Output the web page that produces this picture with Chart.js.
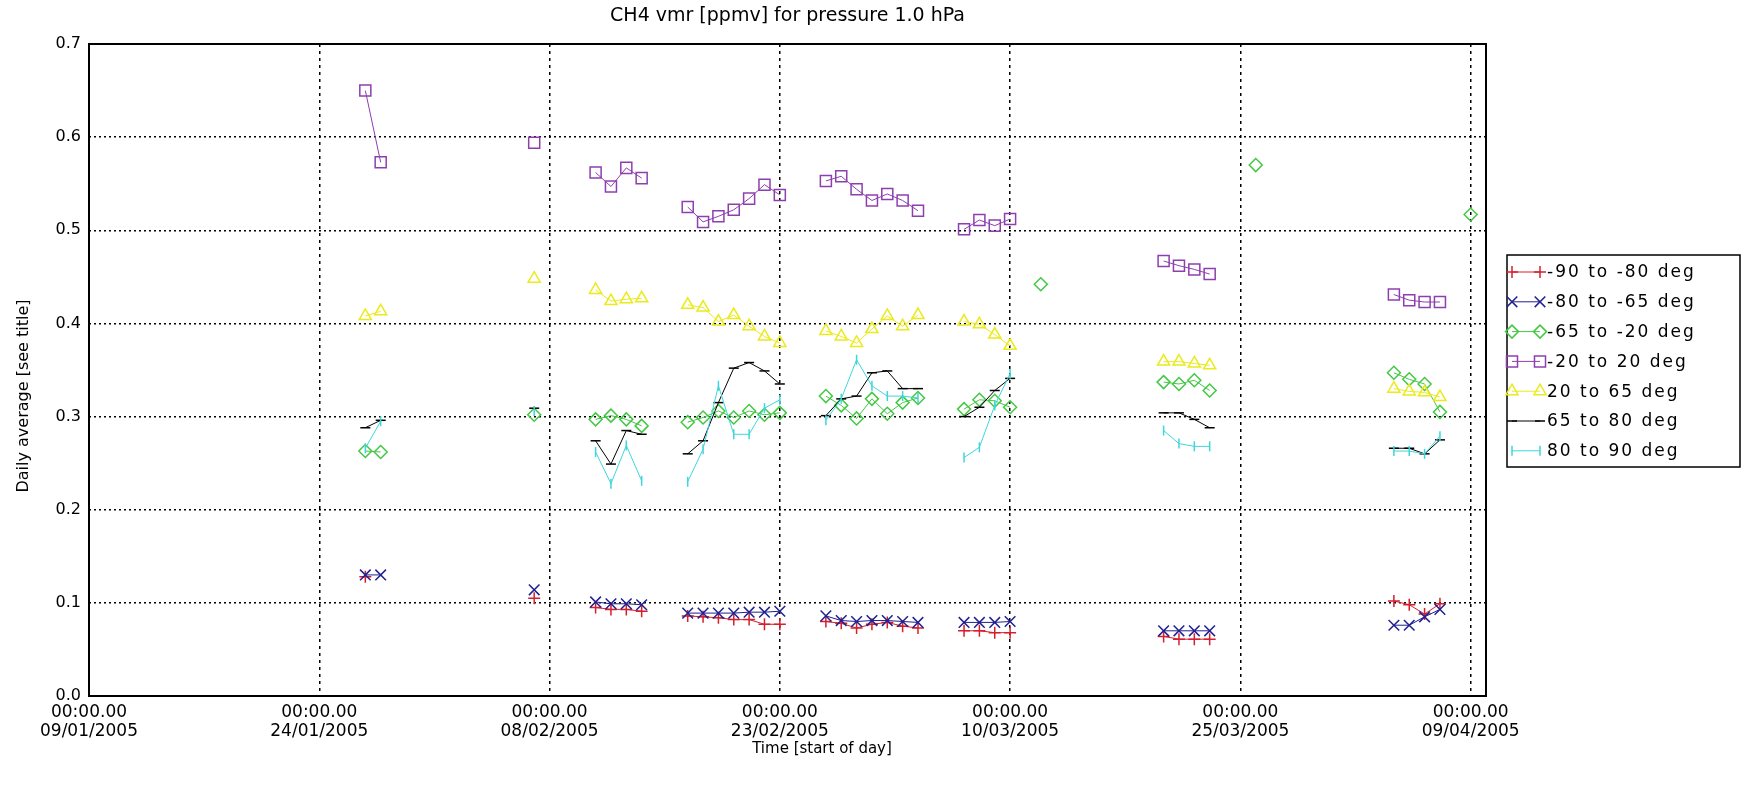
<!DOCTYPE html>
<html>
<head>
<meta charset="utf-8">
<title>CH4 vmr [ppmv] for pressure 1.0 hPa</title>
<script src="https://cdn.jsdelivr.net/npm/chart.js@4.4.1/dist/chart.umd.min.js"></script>
<style>
  html, body { margin: 0; padding: 0; background: #fff; }
  #wrap { width: 1746px; height: 787px; position: relative; }
</style>
</head>
<body>
<div id="wrap"><canvas id="ch4Chart"></canvas></div>
<script>
// days since 09/01/2005 00:00 (start of each daily average)
const days = [18, 19, 29, 33, 34, 35, 36, 39, 40, 41, 42, 43, 44, 45, 48, 49, 50, 51, 52, 53, 54,
              57, 58, 59, 60, 62, 70, 71, 72, 73, 76, 85, 86, 87, 88, 90];

// daily average CH4 vmr [ppmv] per latitude band (null = no data that day)
const band90to80S = [0.128, null, 0.105, 0.095, 0.093, 0.093, 0.091, 0.086, 0.085, 0.084, 0.082, 0.082, 0.077, 0.077,
                     0.080, 0.078, 0.073, 0.077, 0.079, 0.075, 0.073, 0.070, 0.070, 0.068, 0.068, null,
                     0.064, 0.061, 0.061, 0.061, null, 0.102, 0.098, 0.088, 0.099, null];
const band80to65S = [0.130, 0.130, 0.114, 0.101, 0.099, 0.099, 0.098, 0.089, 0.089, 0.089, 0.089, 0.090, 0.090, 0.091,
                     0.086, 0.081, 0.080, 0.081, 0.081, 0.080, 0.079, 0.079, 0.079, 0.079, 0.080, null,
                     0.070, 0.070, 0.070, 0.070, null, 0.076, 0.076, 0.085, 0.093, null];
const band65to20S = [0.263, 0.262, 0.302, 0.297, 0.301, 0.297, 0.290, 0.294, 0.299, 0.306, 0.299, 0.306, 0.302, 0.304,
                     0.322, 0.312, 0.298, 0.319, 0.303, 0.315, 0.320, 0.308, 0.318, 0.317, 0.310, 0.442,
                     0.337, 0.335, 0.339, 0.328, 0.570, 0.347, 0.340, 0.335, 0.305, 0.517];
const band20Sto20N = [0.650, 0.573, 0.594, 0.562, 0.547, 0.567, 0.556, 0.525, 0.509, 0.515, 0.522, 0.534, 0.549, 0.538,
                      0.553, 0.558, 0.544, 0.532, 0.539, 0.532, 0.521, 0.501, 0.511, 0.505, 0.512, null,
                      0.467, 0.462, 0.458, 0.453, null, 0.431, 0.425, 0.423, 0.423, null];
const band20to65N = [0.408, 0.413, 0.448, 0.436, 0.424, 0.426, 0.427, 0.420, 0.417, 0.402, 0.409, 0.397, 0.386, 0.379,
                     0.392, 0.386, 0.379, 0.394, 0.408, 0.397, 0.409, 0.402, 0.399, 0.388, 0.376, null,
                     0.359, 0.359, 0.357, 0.355, null, 0.330, 0.327, 0.326, 0.321, null];
const band65to80N = [0.288, 0.296, 0.309, 0.274, 0.249, 0.285, 0.281, 0.260, 0.274, 0.315, 0.352, 0.358, 0.349, 0.335,
                     0.301, 0.319, 0.322, 0.347, 0.349, 0.330, 0.330, 0.300, 0.310, 0.328, 0.341, null,
                     0.304, 0.304, 0.297, 0.288, null, 0.266, 0.266, 0.260, 0.275, null];
const band80to90N = [0.266, 0.295, 0.306, 0.262, 0.228, 0.269, 0.231, 0.230, 0.265, 0.333, 0.281, 0.281, 0.309, 0.318,
                     0.296, 0.319, 0.361, 0.333, 0.322, 0.322, 0.320, 0.256, 0.267, 0.312, 0.346, null,
                     0.285, 0.271, 0.268, 0.268, null, 0.263, 0.263, 0.260, 0.279, null];

const bandLabels = ['-90 to -80 deg', '-80 to -65 deg', '-65 to -20 deg', '-20 to 20 deg',
                    '20 to 65 deg', '65 to 80 deg', '80 to 90 deg'];

// x axis ticks (days since 09/01/2005) and their dates
const tickDays = [0, 15, 30, 45, 60, 75, 90];
const tickDates = ['09/01/2005', '24/01/2005', '08/02/2005', '23/02/2005', '10/03/2005', '25/03/2005', '09/04/2005'];
const yTickValues = [0, 0.1, 0.2, 0.3, 0.4, 0.5, 0.6, 0.7];

const FONT = 'DejaVu Sans';

// style of each band: IDL-like symbols
const styles = [
  { color: '#d4202e', pointStyle: 'cross', radius: 6, rotation: 0 },
  { color: '#202090', pointStyle: 'crossRot', radius: 7.5, rotation: 0 },
  { color: '#44c844', pointStyle: 'rectRot', radius: 6.5, rotation: 0 },
  { color: '#8e3fae', pointStyle: 'rect', radius: 7.8, rotation: 0 },
  { color: '#eaea1c', pointStyle: 'triangle', radius: 7, rotation: 0 },
  { color: '#000000', pointStyle: 'line', radius: 5, rotation: 0 },
  { color: '#3ed6dc', pointStyle: 'line', radius: 5, rotation: 90 }
];

const series = [band90to80S, band80to65S, band65to20S, band20Sto20N, band20to65N, band65to80N, band80to90N];

const datasets = series.map((vals, i) => ({
  label: bandLabels[i],
  data: days.map((d, j) => ({ x: d, y: vals[j] })),
  borderColor: styles[i].color,
  backgroundColor: 'rgba(0,0,0,0)',
  borderWidth: 1,
  pointStyle: styles[i].pointStyle,
  pointRadius: styles[i].radius,
  pointRotation: styles[i].rotation,
  pointBorderWidth: 1.5,
  pointBorderColor: styles[i].color,
  pointBackgroundColor: 'rgba(0,0,0,0)',
  spanGaps: false,
  tension: 0,
  order: series.length - i,
  // lines only join consecutive days
  segment: {
    borderColor: ctx => (ctx.p1.parsed.x - ctx.p0.parsed.x > 1.01 ? 'rgba(0,0,0,0)' : undefined)
  }
}));

// frame, title, axis titles and legend box
const decorations = {
  id: 'decorations',
  afterDraw(chart) {
    const { ctx, chartArea: a } = chart;
    ctx.save();
    ctx.strokeStyle = '#000';
    ctx.lineWidth = 2;
    ctx.setLineDash([]);
    ctx.strokeRect(a.left, a.top, a.right - a.left, a.bottom - a.top);

    ctx.fillStyle = '#000';
    ctx.textAlign = 'center';
    ctx.textBaseline = 'middle';
    ctx.font = '19px "' + FONT + '"';
    ctx.fillText('CH4 vmr [ppmv] for pressure 1.0 hPa', (a.left + a.right) / 2, 16);

    ctx.font = '15px "' + FONT + '"';
    ctx.fillText('Time [start of day]', 822, 749);

    ctx.save();
    ctx.translate(24, 396);
    ctx.rotate(-Math.PI / 2);
    ctx.font = '16px "' + FONT + '"';
    ctx.fillText('Daily average [see title]', 0, 0);
    ctx.restore();

    // legend
    const lx = 1507, ly = 255, lw = 233, lh = 212;
    ctx.lineWidth = 1.5;
    ctx.strokeRect(lx, ly, lw, lh);
    ctx.font = '17px "' + FONT + '"';
    ctx.textAlign = 'left';
    ctx.letterSpacing = '2px';
    chart.data.datasets.forEach((ds, i) => {
      const y = 272 + i * 29.8;
      const x0 = lx + 5, x1 = lx + 33;
      ctx.strokeStyle = ds.borderColor;
      ctx.lineWidth = 1;
      ctx.beginPath();
      ctx.moveTo(x0, y);
      ctx.lineTo(x1, y);
      ctx.stroke();
      ctx.lineWidth = 1.5;
      ctx.fillStyle = 'rgba(0,0,0,0)';
      [x0, x1].forEach(px => Chart.helpers.drawPoint(ctx, {
        pointStyle: ds.pointStyle, radius: ds.pointRadius, rotation: ds.pointRotation, borderWidth: 1.5
      }, px, y));
      ctx.fillStyle = '#000';
      ctx.fillText(ds.label, lx + 40, y + 1);
    });
    ctx.restore();
  }
};

const chart = new Chart(document.getElementById('ch4Chart').getContext('2d'), {
  type: 'line',
  data: { datasets: datasets },
  plugins: [decorations],
  options: {
    responsive: true,
    maintainAspectRatio: false,
    animation: false,
    layout: { padding: { top: 44, right: 260, bottom: 0, left: 0 } },
    plugins: {
      legend: { display: false },
      title: { display: false },
      tooltip: { enabled: false }
    },
    scales: {
      x: {
        type: 'linear',
        min: 0,
        max: 91,
        afterBuildTicks: scale => { scale.ticks = tickDays.map(v => ({ value: v })); },
        afterFit: scale => { scale.height = 91; },
        ticks: {
          autoSkip: false,
          maxRotation: 0,
          padding: 7,
          color: '#000',
          font: { family: FONT, size: 17, lineHeight: 1.12 },
          callback: v => ['00:00.00', tickDates[tickDays.indexOf(v)]]
        },
        grid: { color: '#000', lineWidth: 1.5, drawTicks: false },
        border: { display: false, dash: [3, 4] }
      },
      y: {
        min: 0,
        max: 0.7,
        afterBuildTicks: scale => { scale.ticks = yTickValues.map(v => ({ value: v })); },
        afterFit: scale => { scale.width = 89; },
        ticks: {
          padding: 8,
          color: '#000',
          font: { family: FONT, size: 16 },
          callback: v => v.toFixed(1)
        },
        grid: { color: '#000', lineWidth: 1.5, drawTicks: false },
        border: { display: false, dash: [2, 3] }
      }
    }
  }
});
</script>
</body>
</html>
